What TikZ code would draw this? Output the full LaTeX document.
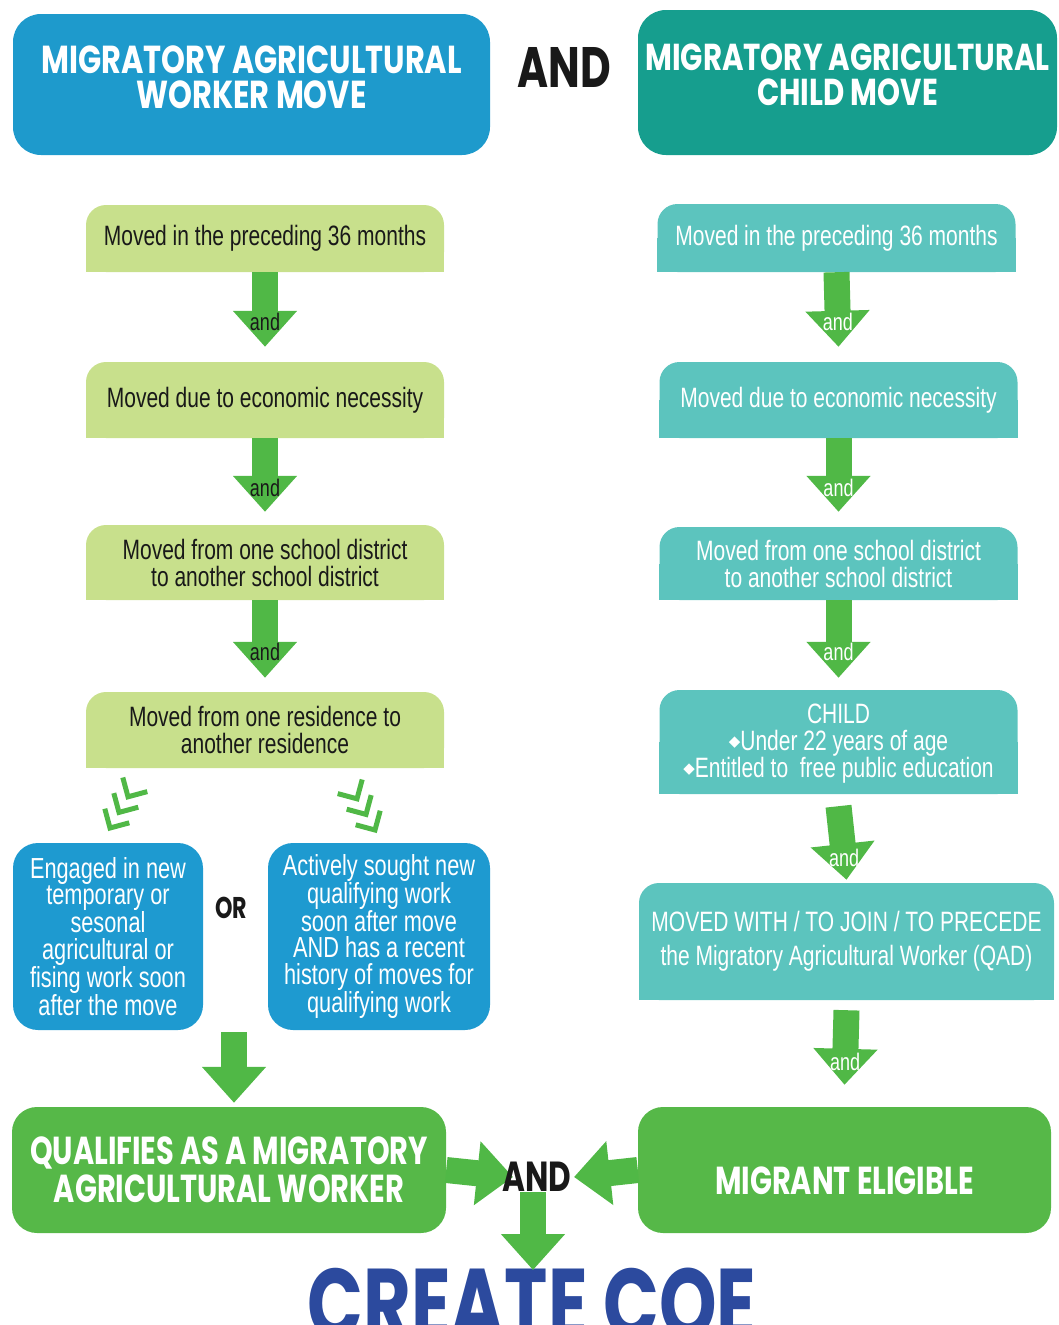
\documentclass[tikz,border=0pt]{standalone}
\usepackage{fontspec}
\newfontfamily\condfont{Liberation Sans}[FakeStretch=0.75]
\newfontfamily\headfont{Poppins}[FakeStretch=0.74]
\newfontfamily\titlefont{Poppins}[FakeStretch=0.78]
\newfontfamily\symfont{DejaVu Sans}
\usetikzlibrary{arrows.meta,backgrounds,calc}

\definecolor{topblue}{RGB}{30,154,204}
\definecolor{topteal}{RGB}{22,158,142}
\definecolor{stepgreen}{RGB}{200,224,140}
\definecolor{stepteal}{RGB}{92,196,190}
\definecolor{workblue}{RGB}{30,154,208}
\definecolor{okgreen}{RGB}{86,184,72}
\definecolor{arrowgreen}{RGB}{80,184,70}
\definecolor{coeblue}{RGB}{44,74,158}
\definecolor{inkblack}{RGB}{25,25,25}

\newcommand\gem{\raisebox{4pt}{\symfont\fontsize{15}{15}\selectfont ◆}}

\tikzset{
  titlebox/.style={rounded corners=28pt, text=white, align=center,
    font=\titlefont\bfseries\fontsize{39}{35}\selectfont},
  leftstep/.style={fill=stepgreen, rounded corners=20pt, text=inkblack, align=center,
    font=\condfont\fontsize{28}{27}\selectfont, minimum width=358pt},
  rightstep/.style={leftstep, fill=stepteal, text=white},
  workbox/.style={fill=workblue, rounded corners=25pt, text=white, align=center,
    font=\condfont\fontsize{29}{26.5}\selectfont},
  resultbox/.style={fill=okgreen, rounded corners=25pt, text=white, align=center,
    font=\headfont\bfseries\fontsize{39}{38}\selectfont},
  bigword/.style={text=inkblack, inner sep=0pt},
  andarrow/.style={arrowgreen, line width=26pt, -{Triangle[width=62pt,length=36pt]}},
  andlabel/.style={font=\condfont\fontsize{24}{24}\selectfont, inner sep=0pt},
  chevron/.style={arrowgreen, line width=5pt},
}

\begin{document}
\begin{tikzpicture}[x=1pt, y=-1pt]
    \useasboundingbox (0,0) rectangle (1059,1325);
    % Titles
    \node[titlebox, fill=topblue, minimum width=477pt, minimum height=141pt] (wtitle) at (251.5,84.5) {MIGRATORY AGRICULTURAL\\WORKER MOVE\\[-20pt]\mbox{}};
    \node[titlebox, fill=topteal, minimum width=419pt, minimum height=145pt, font=\titlefont\bfseries\fontsize{37.5}{35}\selectfont] (ctitle) at (847.5,82.5) {MIGRATORY AGRICULTURAL\\CHILD MOVE\\[-20pt]\mbox{}};
    \node[bigword, font=\headfont\bfseries\fontsize{57}{57}\selectfont] (topand) at (564,67) {AND};
    % Worker move steps
    \node[leftstep, minimum height=67pt] (l1) at (265,238.5) {Moved in the preceding 36 months};
    \node[leftstep, minimum height=76pt] (l2) at (265,400) {Moved due to economic necessity};
    \node[leftstep, minimum height=75pt] (l3) at (265,562.5) {Moved from one school district\\to another school district};
    \node[leftstep, minimum height=76pt] (l4) at (265,730) {Moved from one residence to\\another residence};
    % Child move steps
    \node[rightstep, minimum height=68pt] (r1) at (836.5,238) {Moved in the preceding 36 months};
    \node[rightstep, minimum height=76pt] (r2) at (838.5,400) {Moved due to economic necessity};
    \node[rightstep, minimum height=73pt] (r3) at (838.5,563.5) {Moved from one school district\\to another school district};
    \node[rightstep, minimum height=104pt] (r4) at (838.5,742) {CHILD\\\gem Under 22 years of age\\\gem Entitled to~~free public education\\[-24pt]\mbox{}};
    \node[rightstep, minimum width=415pt, minimum height=117pt, font=\condfont\fontsize{28}{34}\selectfont] (r5) at (846.5,941.5) {MOVED WITH / TO JOIN / TO PRECEDE\\the Migratory Agricultural Worker (QAD)};
    % square lower corners
    \begin{scope}[on background layer]
        \foreach \n in {l1,l2,l3,l4} \fill[stepgreen] (\n.west) rectangle (\n.south east);
        \foreach \n in {r1,r2,r3,r4,r5} \fill[stepteal] (\n.west) rectangle (\n.south east);
    \end{scope}
    % Work after the move
    \node[workbox, minimum width=190pt, minimum height=187pt] (engaged) at (108,936.5) {Engaged in new\\temporary or\\sesonal\\agricultural or\\fising work soon\\after the move};
    \node[workbox, minimum width=222pt, minimum height=187pt] (sought) at (379,936.5) {Actively sought new\\qualifying work\\soon after move\\AND has a recent\\history of moves for\\qualifying work\\[-20pt]\mbox{}};
    \node[bigword, font=\headfont\bfseries\fontsize{30}{30}\selectfont] (ortext) at (231,908) {OR};
    % Results
    \node[resultbox, minimum width=434pt, minimum height=126pt] (qualify) at (229,1170) {QUALIFIES AS A MIGRATORY\\AGRICULTURAL WORKER};
    \node[resultbox, minimum width=413pt, minimum height=126pt, text height=49pt, text depth=0pt] (eligible) at (844.5,1170) {MIGRANT ELIGIBLE};
    \node[inner sep=0pt, anchor=north, text=coeblue, font=\headfont\bfseries\fontsize{99}{99}\selectfont] (coe) at (532,1268) {CREATE COE};
    \coordinate (andmeet) at (537,1177);
    \coordinate (orjoin) at (234,1032);
    \coordinate (lchev) at (110,828);
    \coordinate (rchev) at (375,830);
    % And arrows
    \draw[andarrow] (l1.south) -- node[andlabel, text=inkblack, pos=0.67] {and} ($(l2.north)+(0,-15)$);
    \draw[andarrow] (l2.south) -- node[andlabel, text=inkblack, pos=0.67] {and} ($(l3.north)+(0,-13)$);
    \draw[andarrow] (l3.south) -- node[andlabel, text=inkblack, pos=0.67] {and} ($(l4.north)+(0,-14)$);
    \draw[andarrow] (r1.south) -- node[andlabel, text=white, pos=0.67] {and} ($(r2.north)+(0,-15)$);
    \draw[andarrow] (r2.south) -- node[andlabel, text=white, pos=0.67] {and} ($(r3.north)+(0,-15)$);
    \draw[andarrow] (r3.south) -- node[andlabel, text=white, pos=0.67] {and} ($(r4.north)+(0,-12)$);
    \draw[andarrow] ($(r4.south)+(0,12)$) -- node[andlabel, text=white, pos=0.7] {and} ($(r5.north)+(0,-3)$);
    \draw[andarrow] ($(r5.south)+(0,10)$) -- node[andlabel, text=white, pos=0.69] {and} ($(eligible.north)+(0,-22)$);
    % Either kind of work
    \foreach \k in {0,1,2} {
        \draw[chevron] ($(lchev)+(9*\k,-15.6*\k)+(-5.2,-19.3)$) -- ($(lchev)+(9*\k,-15.6*\k)$) -- ($(lchev)+(9*\k,-15.6*\k)+(19.3,-5.2)$);
        \draw[chevron] ($(rchev)+(-9*\k,-15.6*\k)+(5.2,-19.3)$) -- ($(rchev)+(-9*\k,-15.6*\k)$) -- ($(rchev)+(-9*\k,-15.6*\k)+(-19.3,-5.2)$);
    }
    \draw[andarrow] (orjoin) -- ($(qualify.north -| orjoin)+(0,-4)$);
    % Both give the COE
    \draw[andarrow] (qualify.east) -- ($(andmeet)+(-24,0)$);
    \draw[andarrow] (eligible.west) -- ($(andmeet)+(37,0)$);
    \draw[andarrow] ($(andmeet)+(-4,15)$) -- ($(andmeet)+(-4,93)$);
    \node[bigword, font=\headfont\bfseries\fontsize{42}{42}\selectfont] (finaland) at (andmeet) {AND};
\end{tikzpicture}
\end{document}
